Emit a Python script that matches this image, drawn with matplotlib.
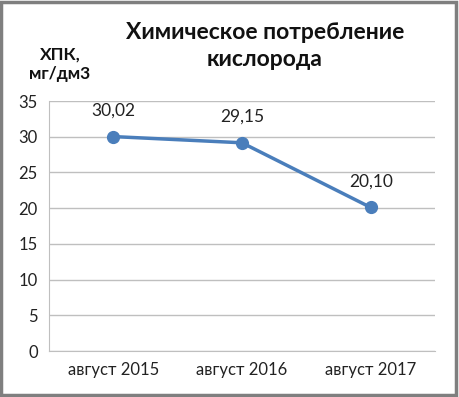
import matplotlib
matplotlib.use("Agg")
import matplotlib.pyplot as plt
from matplotlib.patches import Rectangle

categories = ["август 2015", "август 2016", "август 2017"]
values = [30.02, 29.15, 20.10]
labels = ["30,02", "29,15", "20,10"]
yticks = [0, 5, 10, 15, 20, 25, 30, 35]

W, H = 459, 397
fig = plt.figure(figsize=(W/100, H/100), dpi=100)
plt.rcParams['font.family'] = ['Lato', 'DejaVu Sans']

ax = fig.add_axes([49/W, 1-351/H, (435-49)/W, 250/H])
x = list(range(len(categories)))
ax.plot(x, values, color="#4A7EBB", lw=2.5, marker="o", ms=8.5, zorder=3)
for xi, v, lb in zip(x, values, labels):
    ax.annotate(lb, (xi, v), xytext=(0, 13), textcoords="offset points",
                ha="center", va="bottom", fontsize=12.5, color="#222222")
ax.set_xlim(-0.5, 2.5)
ax.set_ylim(0, 35)
ax.set_yticks(yticks)
ax.set_xticks(x)
ax.set_xticklabels(categories)
ax.grid(axis="y", color="#BFBFBF", lw=1)
ax.set_axisbelow(True)
for s in ["top", "right"]:
    ax.spines[s].set_visible(False)
ax.spines["left"].set_color("#BFBFBF")
ax.spines["bottom"].set_color("#BFBFBF")
ax.tick_params(length=0, labelsize=12, colors="#222222", pad=8)

fig.text(265/W, 1-46/H, "Химическое потребление\nкислорода", ha="center", va="center",
         fontsize=16.5, fontweight="bold", linespacing=1.3, color="#111111")
fig.text(60/W, 1-64/H, "ХПК,\nмг/дм3", ha="center", va="center",
         fontsize=12.5, fontweight="bold", linespacing=1.3, color="#111111")

fig.patches.append(Rectangle((1/W, 2/H), (W-4)/W, (H-4)/H, transform=fig.transFigure,
                             fill=False, edgecolor="#7F7F7F", lw=2.5))
fig.savefig("out.png", dpi=100)
